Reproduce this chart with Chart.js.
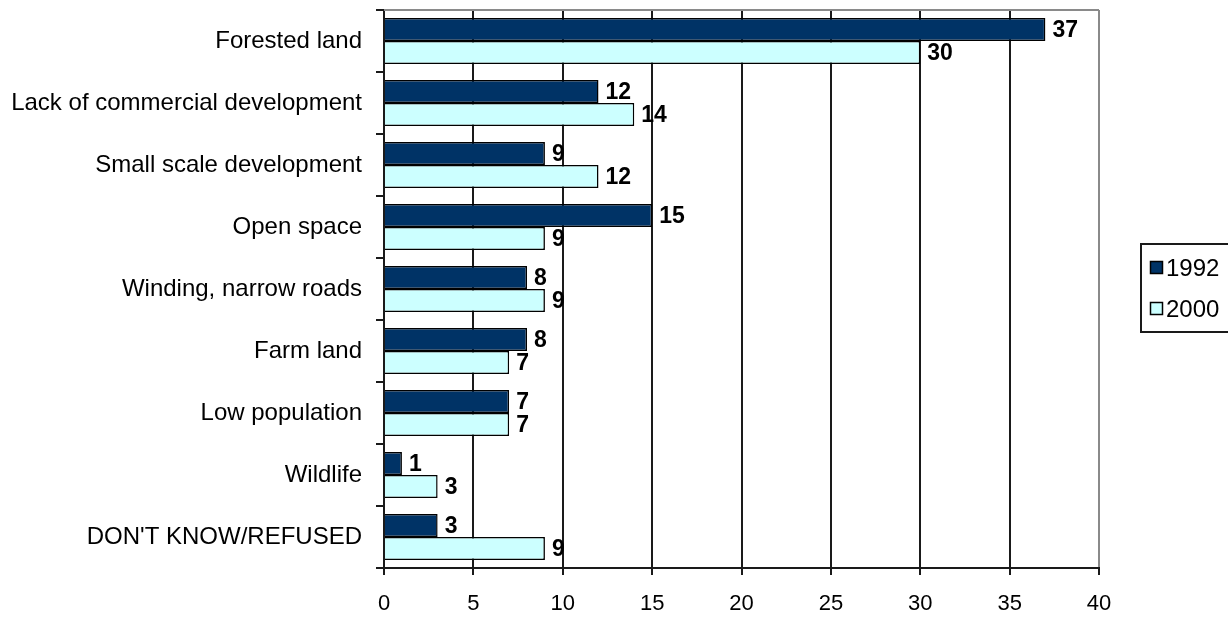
<!DOCTYPE html>
<html>
<head>
<meta charset="utf-8">
<script src="https://cdn.jsdelivr.net/npm/chart.js@4"></script>
<style>
    html, body { margin: 0; padding: 0; background: #ffffff; }
    #wrap { width: 1228px; height: 619px; position: relative; }
</style>
</head>
<body>
<div id="wrap"><canvas id="chart" width="1228" height="619"></canvas></div>
<script>
const categories = [
    'Forested land',
    'Lack of commercial development',
    'Small scale development',
    'Open space',
    'Winding, narrow roads',
    'Farm land',
    'Low population',
    'Wildlife',
    "DON'T KNOW/REFUSED"
];
const values1992 = [37, 12, 9, 15, 8, 8, 7, 1, 3];
const values2000 = [30, 14, 12, 9, 9, 7, 7, 3, 9];
const seriesNames = ['1992', '2000'];
const xTicks = [0, 5, 10, 15, 20, 25, 30, 35, 40];

const FONT = "'Liberation Sans', Arial, sans-serif";
const LINE = '#1a1a1a';

// value labels at the end of each bar
const valueLabels = {
    id: 'valueLabels',
    afterDatasetsDraw(chart) {
        const ctx = chart.ctx;
        ctx.save();
        ctx.fillStyle = '#000';
        ctx.font = 'bold 23px ' + FONT;
        ctx.textAlign = 'left';
        ctx.textBaseline = 'middle';
        chart.data.datasets.forEach((ds, i) => {
            const meta = chart.getDatasetMeta(i);
            meta.data.forEach((bar, j) => {
                ctx.fillText(String(ds.data[j]), bar.x + 7, bar.y + 1);
            });
        });
        ctx.restore();
    }
};

// grey frame on the top edge of the plot
const plotFrame = {
    id: 'plotFrame',
    beforeDatasetsDraw(chart) {
        const a = chart.chartArea;
        const ctx = chart.ctx;
        ctx.save();
        ctx.strokeStyle = '#8a8a8a';
        ctx.lineWidth = 2;
        ctx.beginPath();
        ctx.moveTo(a.left, a.top);
        ctx.lineTo(a.right, a.top);
        ctx.stroke();
        ctx.restore();
    }
};

// boxed legend on the right
const boxLegend = {
    id: 'boxLegend',
    afterDraw(chart) {
        const ctx = chart.ctx;
        const x = 1141, y = 244, w = 100, h = 88;
        ctx.save();
        ctx.strokeStyle = LINE;
        ctx.lineWidth = 2;
        ctx.strokeRect(x, y, w, h);
        ctx.font = '24px ' + FONT;
        ctx.textBaseline = 'middle';
        chart.data.datasets.forEach((ds, i) => {
            const cy = y + 24 + i * 41;
            ctx.fillStyle = ds.backgroundColor;
            ctx.fillRect(x + 9, cy - 7, 13, 13);
            ctx.strokeStyle = '#000';
            ctx.lineWidth = 1.5;
            ctx.strokeRect(x + 9.5, cy - 6.5, 12, 12);
            ctx.fillStyle = '#000';
            ctx.fillText(ds.label, x + 25, cy + 1);
        });
        ctx.restore();
    }
};

new Chart(document.getElementById('chart').getContext('2d'), {
    type: 'bar',
    data: {
        labels: categories,
        datasets: [{
            label: seriesNames[0],
            data: values1992,
            backgroundColor: '#003366',
            borderColor: '#000',
            borderWidth: 1.5,
            categoryPercentage: 0.74,
            barPercentage: 1
        }, {
            label: seriesNames[1],
            data: values2000,
            backgroundColor: '#ccffff',
            borderColor: '#000',
            borderWidth: 1.5,
            categoryPercentage: 0.74,
            barPercentage: 1
        }]
    },
    options: {
        indexAxis: 'y',
        responsive: false,
        animation: false,
        layout: { padding: { left: 0, top: 10, right: 129, bottom: 0 } },
        plugins: {
            legend: { display: false },
            tooltip: { enabled: false }
        },
        scales: {
            x: {
                min: 0,
                max: 40,
                afterBuildTicks: (scale) => {
                    scale.ticks = xTicks.map(v => ({ value: v }));
                },
                afterFit: (scale) => { scale.height = 51; },
                grid: {
                    color: (c) => c.tick && c.tick.value === 40 ? '#8a8a8a' : LINE,
                    lineWidth: 2,
                    tickLength: 7,
                    tickColor: LINE
                },
                border: { color: LINE, width: 2 },
                ticks: {
                    color: '#000',
                    padding: 16,
                    font: { family: FONT, size: 22 }
                }
            },
            y: {
                afterFit: (scale) => {
                    scale.width = 384;
                    scale.paddingTop = 0;
                    scale.paddingBottom = 0;
                },
                grid: {
                    drawOnChartArea: false,
                    tickLength: 8,
                    tickColor: LINE,
                    lineWidth: 2
                },
                border: { color: LINE, width: 2 },
                ticks: {
                    color: '#000',
                    padding: 14,
                    font: { family: FONT, size: 24 }
                }
            }
        }
    },
    plugins: [plotFrame, valueLabels, boxLegend]
});
</script>
</body>
</html>
